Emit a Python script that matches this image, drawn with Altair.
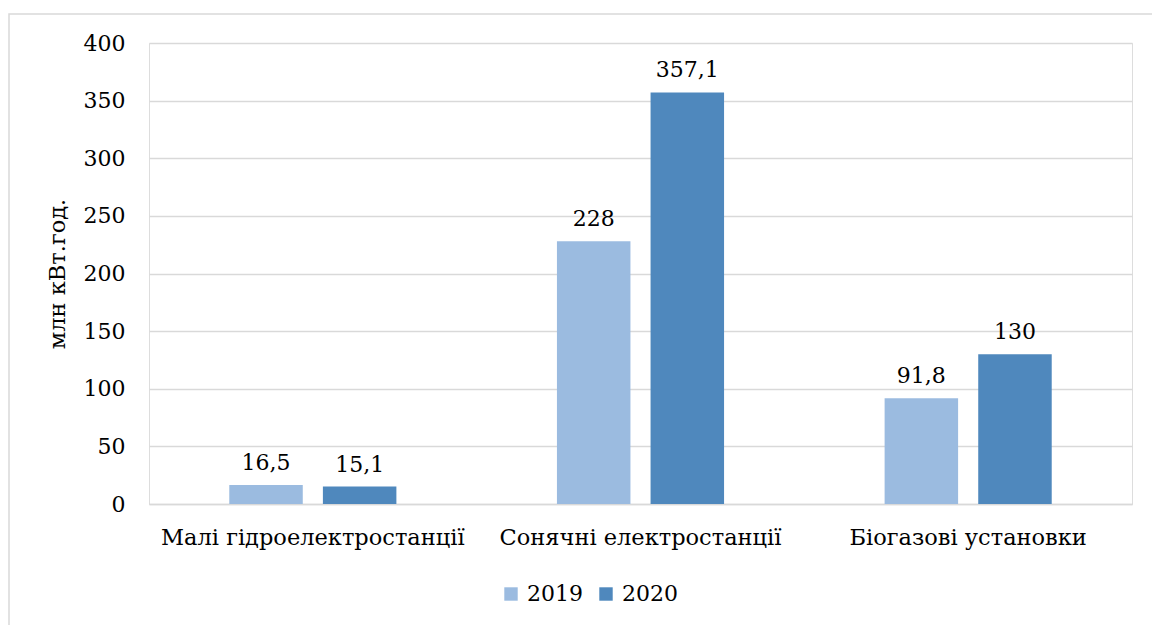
import altair as alt
import pandas as pd

categories = ["Малі гідроелектростанції", "Сонячні електростанції", "Біогазові установки"]
years = ["2019", "2020"]
values_2019 = [16.5, 228, 91.8]
values_2020 = [15.1, 357.1, 130]
labels_2019 = ["16,5", "228", "91,8"]
labels_2020 = ["15,1", "357,1", "130"]

rows = []
for c, v, l in zip(categories, values_2019, labels_2019):
    rows.append({"cat": c, "year": "2019", "value": v, "label": l})
for c, v, l in zip(categories, values_2020, labels_2020):
    rows.append({"cat": c, "year": "2020", "value": v, "label": l})
df = pd.DataFrame(rows)

FONT = "DejaVu Serif"
W, H = 983, 461
L, T = 149, 43

xenc = alt.X("cat:N", sort=categories, title=None,
             scale=alt.Scale(paddingInner=0.49, paddingOuter=0.245),
             axis=alt.Axis(labelAngle=0, labelFont=FONT, labelFontSize=22.5, labelColor="#000",
                           labelLimit=0, ticks=False, domainColor="#d9d9d9", domainWidth=1.5,
                           labelPadding=22))
xoff = alt.XOffset("year:N", sort=years, scale=alt.Scale(paddingInner=0.215))
yenc = alt.Y("value:Q", title="млн кВт.год.",
             scale=alt.Scale(domain=[0, 400]),
             axis=alt.Axis(values=[0, 50, 100, 150, 200, 250, 300, 350, 400],
                           labelFont=FONT, labelFontSize=22, labelColor="#000",
                           ticks=False, domain=False, gridColor="#d9d9d9", gridWidth=1.5,
                           labelPadding=24, titleFont=FONT, titleFontSize=22.5,
                           titleFontWeight="normal", titleColor="#000", titlePadding=14))

color = alt.Color("year:N", sort=years,
                  scale=alt.Scale(domain=years, range=["#9bbbe0", "#4f88bd"]),
                  legend=alt.Legend(title=None, orient="none", direction="horizontal",
                                    legendX=351, legendY=540, symbolType="square",
                                    symbolSize=180, labelFont=FONT, labelFontSize=22,
                                    labelColor="#000", columnPadding=12, labelOffset=5))

bars = alt.Chart(df).mark_bar().encode(x=xenc, xOffset=xoff, y=yenc, color=color)
text = alt.Chart(df).mark_text(font=FONT, fontSize=22, color="#000", dy=-22).encode(
    x=alt.X("cat:N", sort=categories), xOffset=alt.XOffset("year:N", sort=years),
    y="value:Q", text="label:N")

border = alt.Chart(pd.DataFrame({"a": [0]})).mark_rect(
    fill=None, stroke="#d9d9d9", strokeWidth=1.5).encode(
    x=alt.value(9 - L), x2=alt.value(1160 - L), y=alt.value(14 - T), y2=alt.value(640 - T))

chart = alt.layer(border, bars, text).properties(
    width=W, height=H,
    autosize=alt.AutoSizeParams(type="none"),
    padding={"left": L, "top": T, "right": 1152 - L - W, "bottom": 625 - T - H},
).configure_view(stroke=None).configure(background="white")

chart.save("out.html", embed_options={"renderer": "svg", "actions": False})
